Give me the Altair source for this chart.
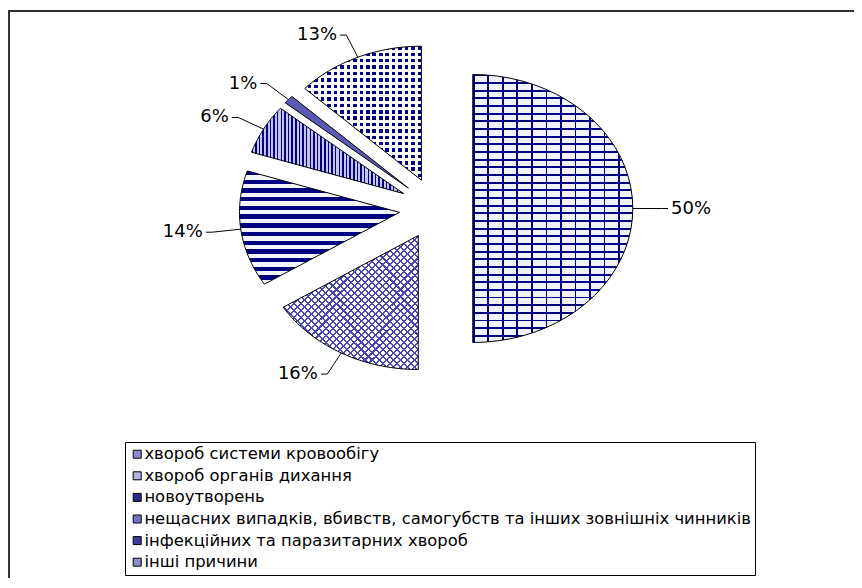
import altair as alt
import pandas as pd

causes = [
    "хвороб системи кровообігу",
    "хвороб органів дихання",
    "новоутворень",
    "нещасних випадків, вбивств, самогубств та інших зовнішніх чинників",
    "інфекційних та паразитарних хвороб",
    "інші причини",
]
shares = [50, 16, 14, 6, 1, 13]
labels = ["50%", "16%", "14%", "6%", "1%", "13%"]

df = pd.DataFrame({"cause": causes, "share": shares, "label": labels,
                   "idx": list(range(len(causes)))})

EXPLODE = 0.23
LABEL_R = 1.18
NPTS = 40
NAVY = "#000080"
CLEAR = "rgba(255,255,255,0)"

xs = alt.Scale(domain=[-1, 1], range=[268, 588], nice=False, zero=False)
ys = alt.Scale(domain=[-1, 1], range=[334.5, 66.5], nice=False, zero=False)


def stripes(n, c1, c2, frac, direction):
    stops = []
    for j in range(n):
        a, b, c = j / n, (j + frac) / n, (j + 1) / n
        stops += [{"offset": round(a, 5), "color": c1}, {"offset": round(b, 5), "color": c1},
                  {"offset": round(b, 5), "color": c2}, {"offset": round(c, 5), "color": c2}]
    coords = {"h": (0, 0, 0, 1), "v": (0, 0, 1, 0), "d1": (0, 0, 1, 1), "d2": (1, 0, 0, 1)}[direction]
    x1, y1, x2, y2 = coords
    return {"gradient": "linear", "x1": x1, "y1": y1, "x2": x2, "y2": y2, "stops": stops}


# fill layers per slice (pattern imitation)
patterns = {
    0: [stripes(35, NAVY, "#f2f2fc", 0.25, "h"), stripes(11, NAVY, CLEAR, 0.12, "v")],
    1: ["#ffffff", stripes(38, "#4848b0", CLEAR, 0.3, "d1"), stripes(38, "#4848b0", CLEAR, 0.3, "d2")],
    2: [stripes(13, NAVY, "#f4f4ff", 0.5, "h")],
    3: [stripes(42, NAVY, "#c4c4ee", 0.42, "v")],
    4: ["#5a5ab4"],
    5: ["#ffffff", stripes(21, NAVY, CLEAR, 0.55, "h"), stripes(18, "#ffffff", CLEAR, 0.45, "v")],
}
sym_colors = ["#8a8acc", "#b4b4e0", "#2a2a90", "#7272c2", "#3c3c9c", "#8c8cd0"]

base = alt.Chart(df)


def angles(ch):
    return (ch.transform_window(cum="sum(share)", sort=[alt.SortField("idx")], frame=[None, 0])
            .transform_joinaggregate(total="sum(share)")
            .transform_calculate(
                a0="2*PI*(datum.cum - datum.share)/datum.total",
                a1="2*PI*datum.cum/datum.total",
                mid="PI*(2*datum.cum - datum.share)/datum.total",
                ox=f"{EXPLODE}*sin(datum.mid)",
                oy=f"{EXPLODE}*cos(datum.mid)",
            ))


def wedge(ch):
    return (angles(ch)
            .transform_calculate(k=f"sequence(0, {NPTS + 3})")
            .transform_flatten(["k"])
            .transform_calculate(
                t=f"clamp((datum.k - 1)/{NPTS}, 0, 1)",
                r=f"(datum.k == 0 || datum.k == {NPTS + 2}) ? 0 : 1",
                th="datum.a0 + (datum.a1 - datum.a0)*datum.t",
                px="datum.r*sin(datum.th) + datum.ox",
                py="datum.r*cos(datum.th) + datum.oy",
            ))


enc = dict(
    x=alt.X("px:Q", scale=xs, axis=None),
    y=alt.Y("py:Q", scale=ys, axis=None),
    order=alt.Order("k:Q"),
)

layers = []
border = alt.Chart(pd.DataFrame({"a": [0]})).mark_rect(
    fill="white", stroke="#333333", strokeWidth=2
).encode(x=alt.value(1), x2=alt.value(900), y=alt.value(3), y2=alt.value(700))
layers.append(border)

for i, fills in patterns.items():
    for f in fills:
        layers.append(
            wedge(base).transform_filter(f"datum.idx == {i}")
            .mark_line(fill=f, strokeOpacity=0, strokeWidth=0)
            .encode(**enc)
        )
    layers.append(
        wedge(base).transform_filter(f"datum.idx == {i}")
        .mark_line(stroke="black", strokeWidth=1)
        .encode(**enc)
    )

lab = angles(base).transform_calculate(
    sx="sin(datum.mid) + datum.ox",
    sy="cos(datum.mid) + datum.oy",
    lx=f"{LABEL_R}*sin(datum.mid) + datum.ox",
    ly=f"{LABEL_R}*cos(datum.mid) + datum.oy",
    side="datum.mid > PI ? -1 : 1",
    hx="datum.lx + datum.side*0.04",
)

leader = lab.mark_rule(color="black", strokeWidth=1).encode(
    x=alt.X("sx:Q", scale=xs, axis=None), y=alt.Y("sy:Q", scale=ys, axis=None),
    x2="lx:Q", y2="ly:Q")
tick = lab.mark_rule(color="black", strokeWidth=1).encode(
    x=alt.X("lx:Q", scale=xs, axis=None), y=alt.Y("ly:Q", scale=ys, axis=None),
    x2="hx:Q", y2="ly:Q")
txt_left = lab.transform_filter("datum.side < 0").mark_text(
    align="right", baseline="middle", dx=-3, font="DejaVu Sans", fontSize=18, color="black"
).encode(x=alt.X("hx:Q", scale=xs, axis=None), y=alt.Y("ly:Q", scale=ys, axis=None), text="label:N")
txt_right = lab.transform_filter("datum.side > 0").mark_text(
    align="left", baseline="middle", dx=3, font="DejaVu Sans", fontSize=18, color="black"
).encode(x=alt.X("hx:Q", scale=xs, axis=None), y=alt.Y("ly:Q", scale=ys, axis=None), text="label:N")

legend_layer = base.transform_filter("datum.share < 0").mark_square(size=64, opacity=1).encode(
    fill=alt.Fill("cause:N", scale=alt.Scale(domain=causes, range=sym_colors),
                  legend=alt.Legend(
                      orient="none", legendX=117, legendY=434, title=None,
                      strokeColor="black", fillColor="white", padding=4, cornerRadius=0,
                      symbolType="square", symbolSize=64, symbolStrokeColor="black",
                      symbolStrokeWidth=1, symbolOpacity=1,
                      labelFont="DejaVu Sans", labelFontSize=16.4, labelColor="black",
                      labelLimit=1000, labelOffset={"expr": "-1"}, rowPadding=4.6,
                  ))
)

layers += [leader, tick, txt_left, txt_right, legend_layer]

chart = alt.layer(*layers).properties(
    width=846, height=570,
    autosize=alt.AutoSizeParams(type="none"),
    padding=0,
).configure_view(stroke=None)

chart.save("out.html", embed_options={"renderer": "svg", "actions": False})
